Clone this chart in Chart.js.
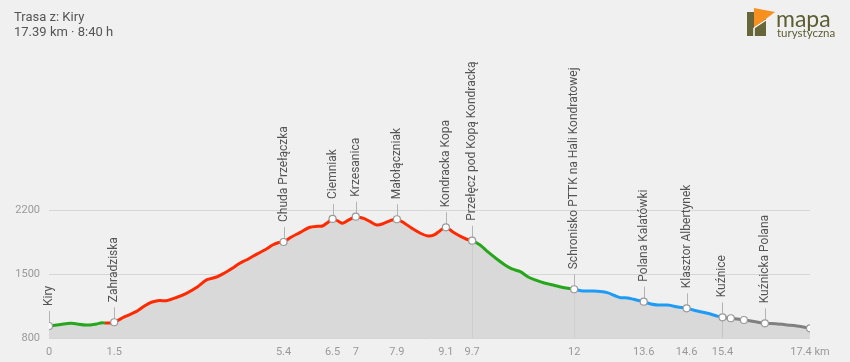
<!DOCTYPE html>
<html><head><meta charset="utf-8">
<script src="https://cdn.jsdelivr.net/npm/chart.js@4"></script>
<style>
html,body{margin:0;padding:0;background:#f0f0f0;}
#wrap{position:relative;width:850px;height:362px;overflow:hidden;font-family:Roboto,sans-serif;}
#title{position:absolute;left:14px;top:9px;font-size:13px;line-height:15px;color:#555;}
#logo{position:absolute;left:740px;top:0;}
canvas{position:absolute;left:0;top:0;}
</style></head><body>
<div id="wrap">
<canvas id="c" width="850" height="362"></canvas>
<div id="title">Trasa z: Kiry<br>17.39 km · 8:40 h</div>
<svg id="logo" width="110" height="42">
  <rect x="7" y="12" width="19" height="24" fill="#66663a"/>
  <polygon points="14,8 35,12 14,28" fill="#f7901e"/>
  <line x1="14" y1="28" x2="14" y2="36" stroke="#fff" stroke-width="1.5"/>
  <line x1="14" y1="28" x2="26" y2="20" stroke="#fff" stroke-width="1.2"/>
  <text x="36" y="27" font-family="Lato, sans-serif" font-size="23" fill="#5e5e33">mapa</text>
  <text x="37" y="37" font-family="Lato, sans-serif" font-size="11.5" fill="#5e5e33">turystyczna</text>
</svg>
</div>
<script>
// Elevation profile (km, m)
const profKm = [0,0.27,0.50,0.85,1.08,1.21,1.28,1.37,1.49,1.72,1.99,2.18,2.34,2.52,2.68,2.91,3.14,3.37,3.60,3.83,4.01,4.19,4.35,4.51,4.67,4.81,4.97,5.11,5.25,5.36,5.54,5.73,5.96,6.14,6.25,6.37,6.48,6.60,6.71,6.85,7.01,7.19,7.33,7.49,7.65,7.84,7.95,8.13,8.32,8.50,8.66,8.80,8.93,9.07,9.23,9.39,9.53,9.67,9.85,10.03,10.24,10.42,10.58,10.77,10.95,11.11,11.32,11.52,11.75,12.00,12.21,12.44,12.60,12.76,12.92,13.06,13.22,13.36,13.59,13.75,13.91,14.14,14.37,14.57,14.82,15.05,15.26,15.39,15.58,15.88,16.11,16.36,16.61,16.88,17.18,17.39];
const profEle = [931,948,961,942,953,967,964,964,972,1030,1088,1150,1191,1210,1208,1243,1289,1352,1435,1467,1511,1563,1615,1653,1697,1733,1774,1817,1845,1850,1905,1952,2011,2022,2025,2064,2102,2080,2055,2091,2127,2108,2075,2036,2053,2091,2099,2053,1992,1943,1916,1927,1971,2011,1960,1916,1883,1864,1817,1741,1661,1599,1555,1525,1467,1435,1402,1380,1352,1333,1314,1314,1309,1296,1265,1241,1238,1223,1197,1172,1161,1161,1139,1125,1095,1070,1041,1026,1016,997,981,961,955,942,926,906];

// Waypoints
const wpKm   = [0,1.49,5.36,6.48,7.01,7.95,9.07,9.67,12.00,13.59,14.57,15.39,15.58,15.88,16.36,17.39];
const wpEle  = [931,972,1850,2102,2127,2099,2011,1864,1333,1197,1125,1026,1016,997,961,906];
const wpName = ["Kiry","Zahradziska","Chuda Przełączka","Ciemniak","Krzesanica","Małołączniak","Kondracka Kopa","Przełęcz pod Kopą Kondracką","Schronisko PTTK na Hali Kondratowej","Polana Kalatówki","Klasztor Albertynek","Kuźnice","","","Kuźnicka Polana",""];

// Axis ticks
const xTickKm = [0,1.49,5.36,6.48,7.01,7.95,9.07,9.67,12.00,13.59,14.57,15.39,17.39];
const xTickLabels = ["0","1.5","5.4","6.5","7","7.9","9.1","9.7","12","13.6","14.6","15.4","17.4 km"];
const yTicks = [800,1500,2200];
const yTickLabels = ["800","1500","2200"];

// Section colours by start km
const secStart = [0,1.25,9.67,12.0,15.39];
const secColor = ["#26a61a","#ff2a00","#26a61a","#1e9bf5","#808080"];
function colorAt(km){let c=secColor[0];for(let i=0;i<secStart.length;i++){if(km>=secStart[i]-1e-9)c=secColor[i];}return c;}

const wpPlugin = {
  id:'wp',
  beforeDatasetsDraw(chart){
    const {ctx,scales:{x,y},chartArea} = chart;
    ctx.save();
    ctx.strokeStyle='#b4b4b4';ctx.lineWidth=1;
    wpKm.forEach((k,i)=>{
      if(!wpName[i])return;
      const px=Math.round(x.getPixelForValue(k))+0.5, py=y.getPixelForValue(wpEle[i]);
      ctx.beginPath();ctx.moveTo(px,py-15);ctx.lineTo(px,chartArea.bottom);ctx.stroke();
    });
    ctx.restore();
  },
  afterDatasetsDraw(chart){
    const {ctx,scales:{x,y}} = chart;
    ctx.save();
    ctx.fillStyle='#555';ctx.font='12px Roboto';ctx.textAlign='left';ctx.textBaseline='middle';
    wpKm.forEach((k,i)=>{
      if(!wpName[i])return;
      const px=x.getPixelForValue(k), py=y.getPixelForValue(wpEle[i]);
      ctx.save();ctx.translate(px,py-20);ctx.rotate(-Math.PI/2);ctx.fillText(wpName[i],0,0);ctx.restore();
    });
    ctx.restore();
  }
};

new Chart(document.getElementById('c'),{
  type:'line',
  data:{datasets:[
    {data:wpKm.map((k,i)=>({x:k,y:wpEle[i]})),showLine:false,pointRadius:3.5,pointBackgroundColor:'#fff',pointBorderColor:'#999',pointBorderWidth:1.2,order:0},
    {data:profKm.map((k,i)=>({x:k,y:profEle[i]})),borderWidth:3,pointRadius:0,tension:0.3,fill:'start',backgroundColor:'#d9d9d9',
     segment:{borderColor:c=>colorAt(c.p0.parsed.x)},borderColor:'#ff2a00',order:1}
  ]},
  options:{
    responsive:false,animation:false,
    layout:{padding:{top:50,right:40,left:0,bottom:0}},
    plugins:{legend:{display:false},tooltip:{enabled:false}},
    scales:{
      x:{type:'linear',min:0,max:17.39,
        grid:{display:false,drawTicks:false},border:{display:false},
        afterBuildTicks:s=>{s.ticks=xTickKm.map(v=>({value:v}));},
        afterFit:s=>{s.height=24;},
        ticks:{autoSkip:false,maxRotation:0,padding:8,color:'#999',font:{family:'Roboto',size:11},callback:(v,i)=>xTickLabels[i]}
      },
      y:{min:800,max:3950,
        grid:{color:'#d6d6d6',drawTicks:false},border:{display:false},
        afterBuildTicks:s=>{s.ticks=yTicks.map(v=>({value:v}));},
        afterFit:s=>{s.width=49;},
        ticks:{padding:9,color:'#999',font:{family:'Roboto',size:11},callback:(v,i)=>yTickLabels[i]}
      }
    }
  },
  plugins:[wpPlugin]
});
</script>
</body></html>
